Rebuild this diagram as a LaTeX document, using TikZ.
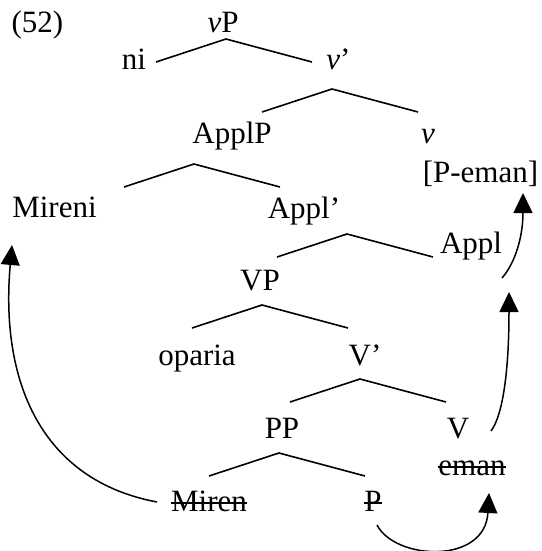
\documentclass[tikz,border=0pt]{standalone}
\usepackage{fontspec}
\setmainfont{Liberation Serif}
\usetikzlibrary{arrows.meta}
\begin{document}
\begin{tikzpicture}[x=1pt,y=-1pt,
  lbl/.style={anchor=base, inner sep=0pt, font=\fontsize{31}{36}\selectfont},
  br/.style={line width=1.6pt},
  mv/.style={line width=1.5pt, -{Triangle[length=20pt,width=19pt]}},
  strk/.style={line width=1.8pt}]
\useasboundingbox (0,0) rectangle (541,551);
% labels
\node[lbl] (ex)    at (37.5,33) {(52)};
\node[lbl] (vP)    at (223,33)  {\textit{v}P};
\node[lbl] (ni)    at (134,70)  {ni};
\node[lbl] (vbar)  at (338.5,70) {\textit{v}’};
\node[lbl] (ApplP) at (232,143) {ApplP};
\node[lbl] (v)     at (428,143) {\textit{v}};
\node[lbl] (Peman) at (480.5,182) {[P-eman]};
\node[lbl] (Mireni) at (54.5,217) {Mireni};
\node[lbl] (Applbar) at (304,218) {Appl’};
\node[lbl] (Appl)  at (471,253) {Appl};
\node[lbl] (VP)    at (260,290) {VP};
\node[lbl] (oparia) at (197,365) {oparia};
\node[lbl] (Vbar)  at (365,365) {V’};
\node[lbl] (PP)    at (282,438) {PP};
\node[lbl] (V)     at (458,438) {V};
\node[lbl] (eman)  at (472,475) {eman};
\node[lbl] (Miren) at (209,511) {Miren};
\node[lbl] (P)     at (373,511) {P};
% strike-throughs
\foreach \n in {eman,Miren,P}
  \draw[strk] ([yshift=8pt]\n.base west) -- ([yshift=8pt]\n.base east);
% branches
\coordinate (vPa)    at (226,39);
\coordinate (vbara)  at (332,89);
\coordinate (ApplPa) at (194,164);
\coordinate (Applbara) at (347,234);
\coordinate (VPa)    at (262,305);
\coordinate (Vbara)  at (360,379);
\coordinate (PPa)    at (279,453);
\foreach \a in {vPa,vbara,ApplPa,Applbara,VPa,Vbara,PPa}
  \draw[br] (\a) ++(-70,23) -- (\a) -- ++(86,23);
% movement arrows
\coordinate (m1s) at (157,502); \coordinate (m1e) at (12,245);
\draw[mv] (m1s) .. controls (40,480) and (0,380) .. (m1e);
\coordinate (m2s) at (377,525); \coordinate (m2e) at (489,493);
\draw[mv] (m2s) .. controls (395,560) and (485,565) .. (m2e);
\coordinate (m3s) at (491,431); \coordinate (m3e) at (509,292);
\draw[mv] (m3s) .. controls (503,415) and (509,370) .. (m3e);
\coordinate (m4s) at (502,278); \coordinate (m4e) at (523,193);
\draw[mv] (m4s) .. controls (516,262) and (523,235) .. (m4e);
\end{tikzpicture}
\end{document}
